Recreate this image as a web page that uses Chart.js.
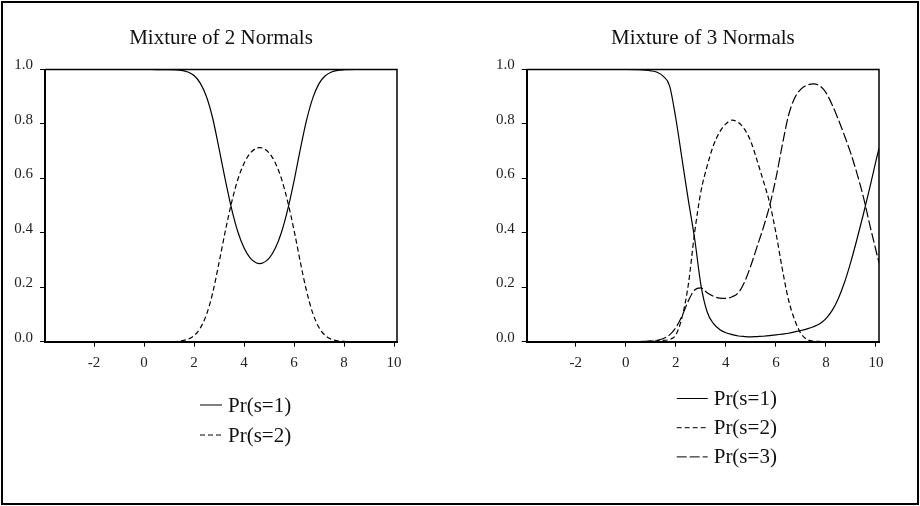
<!DOCTYPE html>
<html>
<head>
<meta charset="utf-8">
<script src="https://cdn.jsdelivr.net/npm/chart.js@4.4.1/dist/chart.umd.min.js"></script>
<style>
  html, body { margin: 0; padding: 0; background: #fff; }
  #frame { position: absolute; left: 1px; top: 1px; width: 918px; height: 504px; box-sizing: border-box; border: 2px solid #000; }
  canvas { position: absolute; top: 0; }
  #left { left: 0; }
  #right { left: 460px; }
</style>
</head>
<body>
<div id="frame"></div>
<canvas id="left" width="460" height="506"></canvas>
<canvas id="right" width="460" height="506"></canvas>
<script>
// tick labels
const xTicks = [-2, 0, 2, 4, 6, 8, 10];
const yTicks = [0, 0.2, 0.4, 0.6, 0.8, 1.0];

// Mixture of 2 Normals
const xs2 = [-3.96, -3, -2, -1, 0, 0.5, 1, 1.5, 1.75, 2, 2.25, 2.5, 2.75, 3, 3.25, 3.5, 3.75, 4, 4.25, 4.5, 4.63, 4.75,
  5, 5.25, 5.5, 5.75, 6, 6.25, 6.5, 6.75, 7, 7.25, 7.5, 7.75, 8, 8.5, 9, 10, 10.12];
const mix2s1 = [1, 1, 1, 1, 1, 0.9999, 0.9997, 0.997, 0.991, 0.978, 0.95, 0.90, 0.82, 0.71, 0.595, 0.49, 0.405, 0.345, 0.307, 0.289, 0.287, 0.289,
  0.306, 0.343, 0.402, 0.486, 0.59, 0.706, 0.813, 0.895, 0.948, 0.977, 0.991, 0.997, 0.999, 1, 1, 1, 1];
const mix2s2 = [0, 0, 0, 0, 0, 0.0001, 0.0003, 0.003, 0.009, 0.022, 0.05, 0.10, 0.18, 0.29, 0.405, 0.51, 0.595, 0.655, 0.693, 0.711, 0.713, 0.711,
  0.694, 0.657, 0.598, 0.514, 0.41, 0.294, 0.187, 0.105, 0.052, 0.023, 0.009, 0.003, 0.001, 0, 0, 0, 0];

// Mixture of 3 Normals
const xs3 = [-3.96, -3, -2, -1, 0, 0.5, 1, 1.25, 1.5, 1.75, 2, 2.25, 2.5, 2.75, 3, 3.25, 3.5, 3.75, 4, 4.25, 4.5, 4.75,
  5, 5.25, 5.5, 5.75, 6, 6.25, 6.5, 6.75, 7, 7.25, 7.5, 7.75, 8, 8.25, 8.5, 8.75, 9, 9.25, 9.5, 9.75, 10, 10.12];
const mix3s1 = [1, 1, 1, 1, 1, 0.999, 0.995, 0.99, 0.975, 0.94, 0.82, 0.67, 0.52, 0.38, 0.21, 0.11, 0.067, 0.045, 0.033, 0.026, 0.021, 0.019,
  0.018, 0.019, 0.020, 0.022, 0.025, 0.028, 0.031, 0.036, 0.041, 0.047, 0.055, 0.066, 0.085, 0.115, 0.16, 0.22, 0.295, 0.38, 0.47, 0.565, 0.665, 0.71];
const mix3s2 = [0, 0, 0, 0, 0, 0.0005, 0.002, 0.003, 0.005, 0.008, 0.025, 0.09, 0.21, 0.40, 0.55, 0.645, 0.72, 0.77, 0.80, 0.814, 0.805, 0.78,
  0.735, 0.665, 0.59, 0.51, 0.40, 0.27, 0.155, 0.08, 0.03, 0.008, 0.002, 0.001, 0, 0, 0, 0, 0, 0, 0, 0, 0, 0];
const mix3s3 = [0, 0, 0, 0, 0, 0.0005, 0.002, 0.005, 0.012, 0.025, 0.052, 0.095, 0.15, 0.19, 0.198, 0.18, 0.167, 0.16, 0.159, 0.165, 0.18, 0.22,
  0.28, 0.35, 0.42, 0.50, 0.60, 0.72, 0.83, 0.895, 0.928, 0.943, 0.947, 0.94, 0.915, 0.87, 0.815, 0.755, 0.69, 0.615, 0.53, 0.43, 0.335, 0.29];

const seriesLabels = ["Pr(s=1)", "Pr(s=2)", "Pr(s=3)"];
const dashes = [[], [5, 3], [10, 3]];

Chart.defaults.font.family = '"Liberation Serif", "Times New Roman", serif';
Chart.defaults.color = "#222";

// legend drawn as short line samples stacked under the plot
const lineLegend = {
  id: "lineLegend",
  afterDraw(chart, args, opts) {
    const ctx = chart.ctx;
    ctx.save();
    ctx.font = opts.font;
    ctx.fillStyle = "#111";
    ctx.strokeStyle = "#000";
    ctx.textBaseline = "middle";
    chart.data.datasets.forEach((ds, i) => {
      const y = opts.y + i * opts.rowGap;
      ctx.beginPath();
      ctx.lineWidth = 1;
      ctx.setLineDash(ds.borderDash || []);
      ctx.moveTo(opts.x, y);
      ctx.lineTo(opts.x + opts.lineLen, y);
      ctx.stroke();
      ctx.setLineDash([]);
      ctx.fillText(ds.label, opts.x + opts.lineLen + opts.gap, y + 1);
    });
    ctx.restore();
  }
};

// top and right sides of the plot box
const boxFrame = {
  id: "boxFrame",
  afterDatasetsDraw(chart) {
    const {ctx, chartArea: a} = chart;
    ctx.save();
    ctx.strokeStyle = "#000";
    ctx.lineWidth = 1.5;
    ctx.beginPath();
    ctx.moveTo(a.left, a.top);
    ctx.lineTo(a.right, a.top);
    ctx.lineTo(a.right, a.bottom);
    ctx.stroke();
    ctx.restore();
  }
};

function makeChart(id, title, xs, series, pad, legend) {
  const datasets = series.map((ys, i) => ({
    label: seriesLabels[i],
    data: xs.map((x, j) => ({x: x, y: ys[j]})),
    borderColor: "#000",
    borderWidth: 1.2,
    borderDash: dashes[i],
    pointRadius: 0,
    fill: false,
    cubicInterpolationMode: "monotone"
  }));

  return new Chart(document.getElementById(id), {
    type: "line",
    data: { datasets: datasets },
    plugins: [lineLegend, boxFrame],
    options: {
      responsive: false,
      animation: false,
      events: [],
      layout: { padding: pad },
      plugins: {
        legend: { display: false },
        tooltip: { enabled: false },
        title: {
          display: true,
          text: title,
          fullSize: false,
          color: "#111",
          font: { size: 21, weight: "normal" },
          padding: { top: 26, bottom: 18.3 }
        },
        lineLegend: legend
      },
      scales: {
        x: {
          type: "linear",
          min: -3.96,
          max: 10.12,
          afterBuildTicks: axis => { axis.ticks = xTicks.map(v => ({value: v})); },
          afterFit: scale => { scale.height = 30; },
          grid: { drawOnChartArea: false, drawTicks: true, tickLength: 5, color: "#000" },
          border: { color: "#000", width: 2 },
          ticks: { font: { size: 15 }, padding: 7, maxRotation: 0, callback: v => String(v) }
        },
        y: {
          min: 0,
          max: 1,
          afterBuildTicks: axis => { axis.ticks = yTicks.map(v => ({value: v})); },
          afterFit: scale => { scale.width = 32; },
          grid: { drawOnChartArea: false, drawTicks: true, tickLength: 5, color: "#000" },
          border: { color: "#000", width: 2 },
          ticks: { font: { size: 15 }, padding: 7, labelOffset: -4, callback: v => v.toFixed(1) }
        }
      }
    }
  });
}

makeChart("left", "Mixture of 2 Normals", xs2, [mix2s1, mix2s2],
  { left: 13, right: 63, top: 0, bottom: 134.3 },
  { x: 200, y: 405, lineLen: 22, gap: 6, rowGap: 30, font: '21px "Liberation Serif", serif' });

makeChart("right", "Mixture of 3 Normals", xs3, [mix3s1, mix3s2, mix3s3],
  { left: 34.7, right: 41, top: 0, bottom: 134.3 },
  { x: 216.7, y: 398.5, lineLen: 31, gap: 6, rowGap: 29.2, font: '21px "Liberation Serif", serif' });
</script>
</body>
</html>
